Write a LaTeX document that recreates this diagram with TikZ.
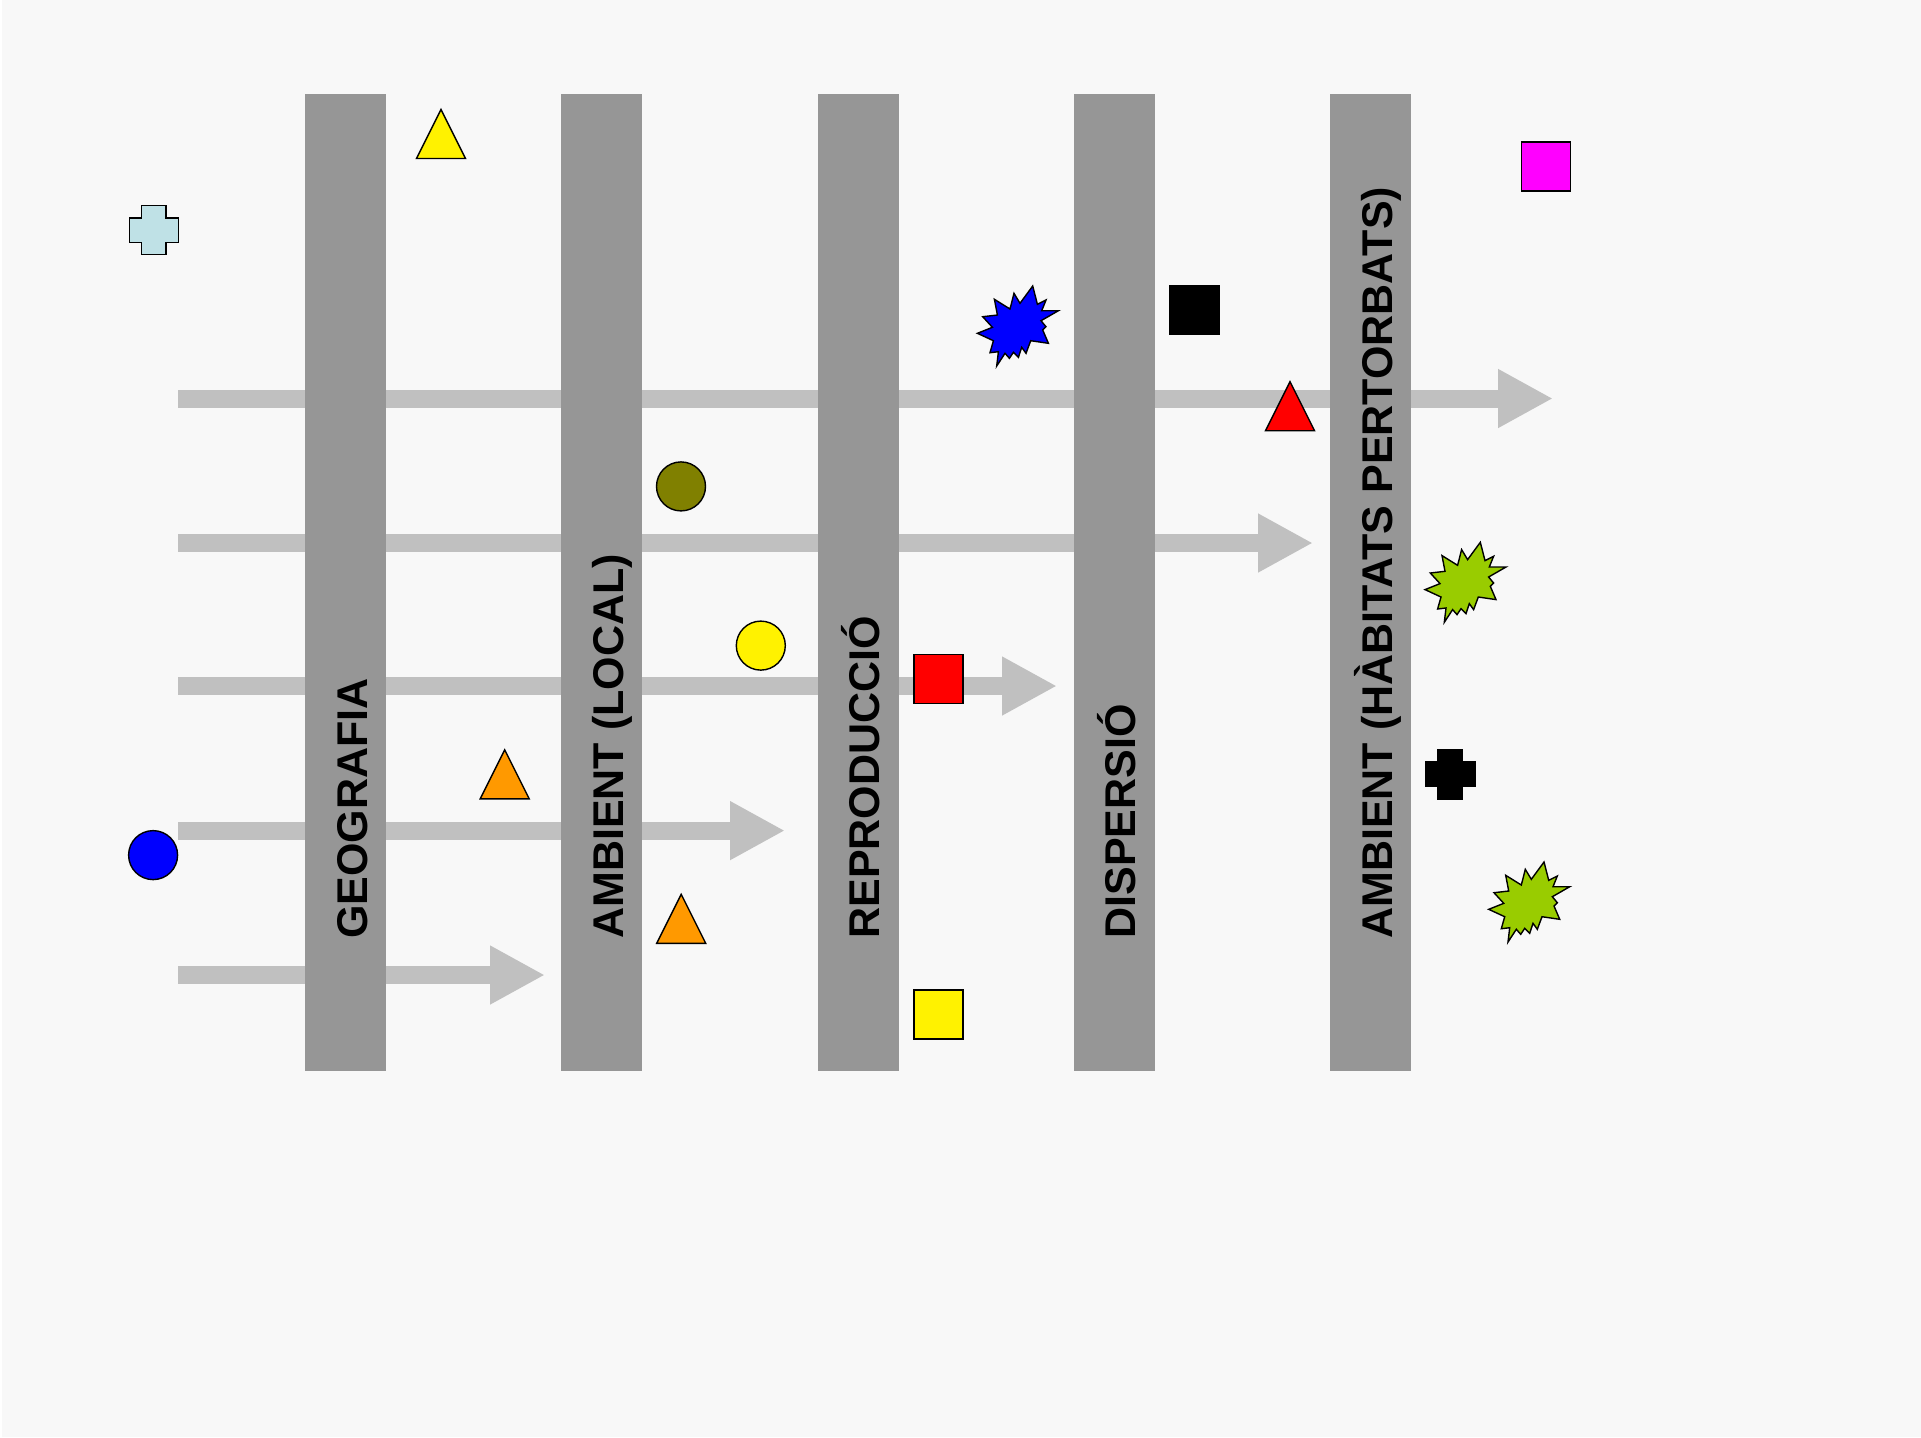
\documentclass[tikz,border=0pt]{standalone}
\usepackage{fontspec}
\setmainfont{Liberation Sans}
\usepackage{tikz}
\usetikzlibrary{arrows.meta,positioning}
\definecolor{paper}{HTML}{F8F8F8}
\definecolor{lanegray}{HTML}{969696}
\definecolor{flowgray}{HTML}{C0C0C0}
\definecolor{tokice}{HTML}{BFE1E6}
\definecolor{tokorange}{HTML}{FF9900}
\definecolor{tokolive}{HTML}{808000}
\definecolor{tokgreen}{HTML}{99CC00}
\definecolor{tokmagenta}{HTML}{FF00FF}

\begin{document}
\begin{tikzpicture}[
  x=0.5pt,y=-0.5pt,
  lane/.style={fill=lanegray,minimum width=40.5pt,minimum height=488.5pt,inner sep=0pt,outer sep=0pt},
  lanetext/.style={rotate=90,anchor=base west,inner sep=0pt,
    font=\bfseries\fontsize{21.5}{25}\selectfont},
  flow/.style={-{Triangle[length=27.5pt,width=27.5pt]},line width=9pt,draw=flowgray},
  tok/.style={draw=black,line width=0.7pt,line join=miter},
  disc/.style={tok,circle,minimum size=24.5pt,inner sep=0pt},
  tile/.style={tok,rectangle,minimum size=24.5pt,inner sep=0pt},
  pics/tri/.style={code={\draw[tok,fill=#1] (0,-24.5) -- (24.5,24.5) -- (-24.5,24.5) -- cycle;}},
  pics/plus/.style={code={\draw[tok,fill=#1] (-12.3,-24.5) -- (12.3,-24.5) -- (12.3,-12.3)
    -- (24.5,-12.3) -- (24.5,12.3) -- (12.3,12.3) -- (12.3,24.5) -- (-12.3,24.5)
    -- (-12.3,12.3) -- (-24.5,12.3) -- (-24.5,-12.3) -- (-12.3,-12.3) -- cycle;}},
  pics/seal/.style={code={\draw[tok,fill=#1] (15,-40) -- (19.7,-21.7) -- (28.3,-26)
    -- (24,-15.3) -- (40.7,-15.3) -- (23.3,-5.3) -- (28.3,0.7) -- (25,4) -- (30.7,17.3)
    -- (13,14.7) -- (8.3,27.3) -- (4,21.3) -- (0.7,31.3) -- (-4.3,26.3) -- (-8.3,32.3)
    -- (-12.7,27.3) -- (-21,40) -- (-19.3,25.7) -- (-27.7,26.7) -- (-24.3,14.7)
    -- (-40.3,7.3) -- (-25.3,1.3) -- (-35,-9.3) -- (-20.3,-11) -- (-23.3,-26.7)
    -- (-7.7,-17) -- (-3.7,-32.7) -- (2.3,-22.7) -- cycle;}}
]
  \useasboundingbox (0,0) rectangle (1921,1437);
  \fill[paper] (2,0) rectangle (1921,1437);

  \foreach \i/\y/\x in {1/398.5/1553,2/543/1313,3/686/1057,4/830.6/785,5/975/545}{
    \coordinate (s\i) at (178,\y);
    \coordinate (e\i) at (\x,\y);
    \draw[flow] (s\i) -- (e\i);
  }

  \node[lane] (geo) at (345.5,582.5) {};
  \node[lane,right=87.65pt of geo] (amb) {};
  \node[lane,right=87.65pt of amb] (rep) {};
  \node[lane,right=87.65pt of rep] (dis) {};
  \node[lane,right=87.65pt of dis] (hab) {};

  \node[lanetext] (geotxt) at ([xshift=10.75pt,yshift=66pt]geo.south) {GEOGRAFIA};
  \node[lanetext] (ambtxt) at ([xshift=10.75pt,yshift=66pt]amb.south) {AMBIENT (LOCAL)};
  \node[lanetext] (reptxt) at ([xshift=10.75pt,yshift=66pt]rep.south) {REPRODUCCIÓ};
  \node[lanetext] (distxt) at ([xshift=10.75pt,yshift=66pt]dis.south) {DISPERSIÓ};
  \node[lanetext] (habtxt) at ([xshift=10.75pt,yshift=66pt]hab.south) {AMBIENT (HÀBITATS PERTORBATS)};

  \pic (iceplus) at (153.8,230.2) {plus=tokice};
  \pic (blkplus) at (1450.3,774.3) {plus=black};
  \pic (ytri) at (441,134) {tri=yellow};
  \pic (rtri) at (1290,406.2) {tri=red};
  \pic (otri) at (504.7,774.3) {tri=tokorange};
  \pic (otrib) at (681.2,918.8) {tri=tokorange};
  \pic (bseal) at (1017.7,326) {seal=blue};
  \pic (gseal) at (1465.3,582.3) {seal=tokgreen};
  \pic (gsealb) at (1529,902) {seal=tokgreen};

  \node[disc,fill=tokolive] (odisc) at (681,486.4) {};
  \node[disc,fill=yellow] (ydisc) at (760.8,645.6) {};
  \node[disc,fill=blue] (bdisc) at (153.1,855.1) {};

  \node[tile,fill=black] (ktile) at (1194.5,310) {};
  \node[tile,fill=tokmagenta] (mtile) at (1546,166.6) {};
  \node[tile,fill=red] (rtile) at (938.5,678.7) {};
  \node[tile,fill=yellow] (ytile) at (938.5,1014.5) {};
\end{tikzpicture}
\end{document}
